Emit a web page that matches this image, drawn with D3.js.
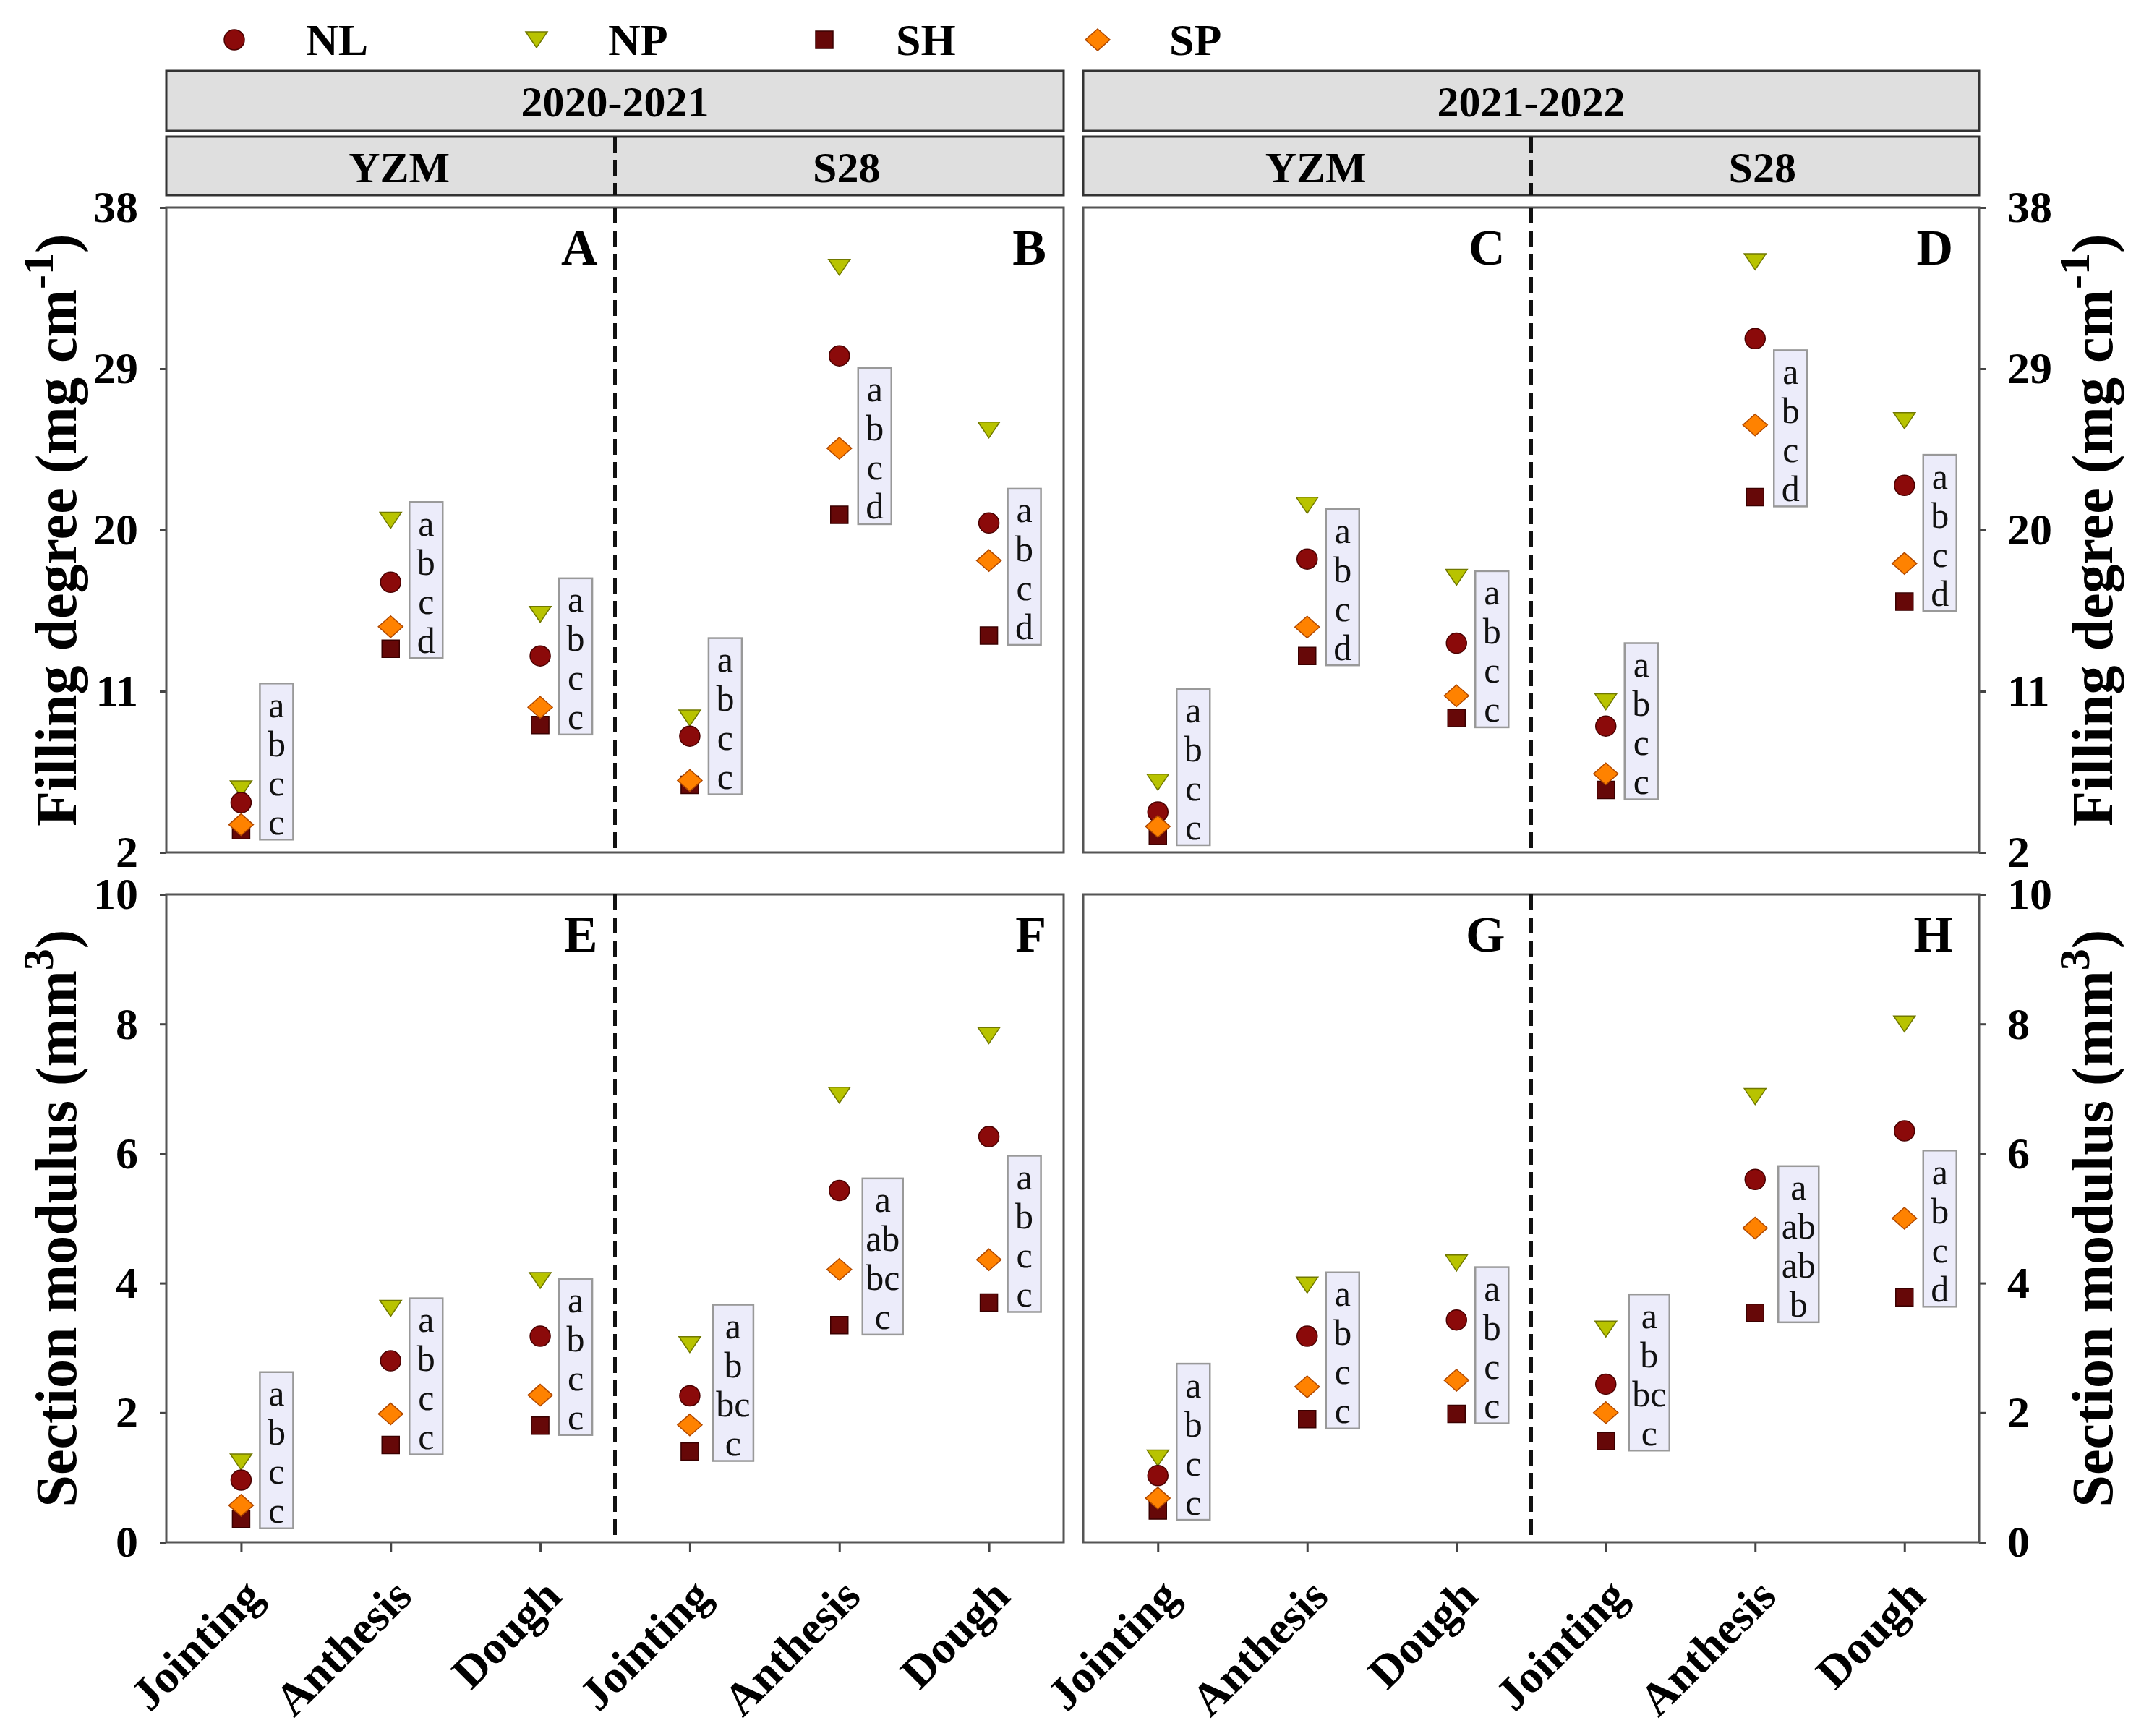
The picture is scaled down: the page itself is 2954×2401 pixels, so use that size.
<!DOCTYPE html>
<html>
<head>
<meta charset="utf-8">
<script src="https://cdn.jsdelivr.net/npm/d3@7"></script>
<style>
  body { margin: 0; background: #fff; }
  text { font-family: "Liberation Serif", "Times New Roman", serif; }
</style>
</head>
<body>
<div id="chart"></div>
<script>
// ---- data ----
const seasons = ["2020-2021", "2021-2022"];
const cultivars = ["YZM", "S28"];
const stages = ["Jointing", "Anthesis", "Dough"];
const treatments = ["NL", "NP", "SH", "SP"];
const panelTags = [["A", "B", "C", "D"], ["E", "F", "G", "H"]];

// groups: YZM Jointing/Anthesis/Dough, S28 Jointing/Anthesis/Dough
const fill2020 = {
  NL: [4.78, 17.08, 12.97, 8.49, 29.72, 20.39],
  NP: [5.55, 20.54, 15.29, 9.51, 34.66, 25.58],
  SH: [3.24, 13.37, 9.11, 5.77, 20.85, 14.11],
  SP: [3.55, 14.60, 10.10, 6.02, 24.56, 18.29]
};
const fill2021 = {
  NL: [4.26, 18.38, 13.68, 9.05, 30.68, 22.49],
  NP: [5.92, 21.38, 17.36, 10.41, 34.97, 26.10],
  SH: [2.93, 12.97, 9.51, 5.49, 21.84, 16.00],
  SP: [3.45, 14.58, 10.75, 6.39, 25.86, 18.13]
};
const modulus2020 = {
  NL: [0.96, 2.80, 3.18, 2.26, 5.43, 6.26],
  NP: [1.24, 3.61, 4.04, 3.05, 6.90, 7.82],
  SH: [0.36, 1.50, 1.80, 1.40, 3.35, 3.70],
  SP: [0.57, 1.98, 2.27, 1.81, 4.21, 4.36]
};
const modulus2021 = {
  NL: [1.03, 3.18, 3.43, 2.44, 5.60, 6.35],
  NP: [1.30, 3.97, 4.31, 3.29, 6.88, 8.00],
  SH: [0.49, 1.90, 1.98, 1.56, 3.54, 3.78],
  SP: [0.68, 2.40, 2.50, 2.00, 4.85, 5.00]
};

const fillLetters2020 = ["a b c c", "a b c d", "a b c c", "a b c c", "a b c d", "a b c d"];
const fillLetters2021 = ["a b c c", "a b c d", "a b c c", "a b c c", "a b c d", "a b c d"];
const modLetters2020 = ["a b c c", "a b c c", "a b c c", "a b bc c", "a ab bc c", "a b c c"];
const modLetters2021 = ["a b c c", "a b c c", "a b c c", "a b bc c", "a ab ab b", "a b c d"];

const fillTicks = [2, 11, 20, 29, 38];
const modTicks = [0, 2, 4, 6, 8, 10];

// ---- layout ----
const W = 2954, H = 2401;
const cols = [{ x0: 230, x1: 1471 }, { x0: 1498, x1: 2737 }];
const rows = [{ y0: 287, y1: 1179 }, { y0: 1237, y1: 2133 }];

const metrics = [
  { domain: [2, 38], ticks: fillTicks, data: [fill2020, fill2021], letters: [fillLetters2020, fillLetters2021] },
  { domain: [0, 10], ticks: modTicks, data: [modulus2020, modulus2021], letters: [modLetters2020, modLetters2021] }
];

const colors = {
  NL: { fill: "#8b0a0a", stroke: "#4a0000" },
  NP: { fill: "#b8c300", stroke: "#707800" },
  SH: { fill: "#660808", stroke: "#3a0000" },
  SP: { fill: "#ff8200", stroke: "#b04800" }
};

function marker(t) {
  if (t === "NL") return d3.symbol(d3.symbolCircle, Math.PI * 14 * 14)();
  if (t === "NP") return "M-15,-11L15,-11L0,11Z";
  if (t === "SH") return "M-12,-12H12V12H-12Z";
  return "M0,-15L17,0L0,15L-17,0Z";
}
const drawOrder = ["SH", "NP", "NL", "SP"];

const svg = d3.select("#chart").append("svg")
  .attr("width", W).attr("height", H)
  .attr("viewBox", `0 0 ${W} ${H}`);

// ---- legend ----
const legX = [324, 742, 1140, 1518];
treatments.forEach((t, i) => {
  svg.append("path")
    .attr("d", marker(t))
    .attr("transform", `translate(${legX[i]},55)`)
    .attr("fill", colors[t].fill)
    .attr("stroke", colors[t].stroke).attr("stroke-width", 1.5);
  svg.append("text")
    .attr("x", legX[i] + 99).attr("y", 76)
    .attr("font-size", 62).attr("font-weight", "bold")
    .text(t);
});

// ---- strip headers ----
cols.forEach((c, s) => {
  const mid = (c.x0 + c.x1) / 2;
  svg.append("rect")
    .attr("x", c.x0).attr("y", 98).attr("width", c.x1 - c.x0).attr("height", 83)
    .attr("fill", "#dfdfdf").attr("stroke", "#333").attr("stroke-width", 3);
  svg.append("text")
    .attr("x", mid).attr("y", 161).attr("text-anchor", "middle")
    .attr("font-size", 60).attr("font-weight", "bold")
    .text(seasons[s]);
  svg.append("rect")
    .attr("x", c.x0).attr("y", 189).attr("width", c.x1 - c.x0).attr("height", 81)
    .attr("fill", "#dfdfdf").attr("stroke", "#333").attr("stroke-width", 3);
  svg.append("line")
    .attr("x1", mid).attr("x2", mid).attr("y1", 189).attr("y2", 270)
    .attr("stroke", "#111").attr("stroke-width", 5).attr("stroke-dasharray", "22,10");
  cultivars.forEach((cv, k) => {
    svg.append("text")
      .attr("x", k === 0 ? (c.x0 + mid) / 2 + 12 : (mid + c.x1) / 2 + 10).attr("y", 252)
      .attr("text-anchor", "middle")
      .attr("font-size", 60).attr("font-weight", "bold")
      .text(cv);
  });
});

// ---- panels ----
rows.forEach((r, m) => {
  const met = metrics[m];
  const y = d3.scaleLinear().domain(met.domain).range([r.y1, r.y0]);

  cols.forEach((c, s) => {
    const x = d3.scalePoint().domain(d3.range(6)).range([c.x0, c.x1]).padding(0.5);
    const mid = (c.x0 + c.x1) / 2;
    const g = svg.append("g");

    // y axis (left for first column, right for second)
    const yAxis = (s === 0 ? d3.axisLeft(y) : d3.axisRight(y))
      .tickValues(met.ticks).tickSize(9).tickPadding(30);
    g.append("g")
      .attr("transform", `translate(${s === 0 ? c.x0 : c.x1},0)`)
      .call(yAxis)
      .call(a => a.select(".domain").remove())
      .call(a => a.selectAll("line").attr("stroke", "#444").attr("stroke-width", 3))
      .call(a => a.selectAll("text")
        .attr("font-family", "Liberation Serif").attr("font-size", 62)
        .attr("font-weight", "bold").attr("fill", "#000"));

    // x axis on bottom row
    if (m === 1) {
      g.append("g")
        .attr("transform", `translate(0,${r.y1})`)
        .call(d3.axisBottom(x).tickSize(13).tickFormat(i => stages[i % 3]))
        .call(a => a.select(".domain").remove())
        .call(a => a.selectAll("line").attr("stroke", "#444").attr("stroke-width", 3))
        .call(a => a.selectAll("text")
          .attr("font-family", "Liberation Serif").attr("font-size", 64)
          .attr("font-weight", "bold").attr("fill", "#000")
          .attr("text-anchor", "end").attr("x", 0).attr("y", 0).attr("dy", "0.35em")
          .attr("transform", "translate(16,62) rotate(-45)"));
    }

    // frame
    g.append("rect")
      .attr("x", c.x0).attr("y", r.y0).attr("width", c.x1 - c.x0).attr("height", r.y1 - r.y0)
      .attr("fill", "none").attr("stroke", "#555").attr("stroke-width", 3);

    // divider between cultivars
    g.append("line")
      .attr("x1", mid).attr("x2", mid).attr("y1", r.y0).attr("y2", r.y1)
      .attr("stroke", "#111").attr("stroke-width", 5).attr("stroke-dasharray", "22,10");

    // panel tags
    [mid, c.x1].forEach((right, k) => {
      g.append("text")
        .attr("x", right - (s === 0 ? 24 : 36)).attr("y", r.y0 + 79)
        .attr("text-anchor", "end")
        .attr("font-size", 70).attr("font-weight", "bold")
        .text(panelTags[m][s * 2 + k]);
    });

    const vals = met.data[s];
    const letters = met.letters[s];

    // letter boxes
    d3.range(6).forEach(i => {
      const parts = letters[i].split(" ");
      const wide = parts.some(p => p.length > 1);
      const bw = wide ? 56 : 46;
      const bx = x(i) + (wide ? 32 : 26);
      const bottom = y(vals.SH[i]) + 13;
      const top = bottom - 216;
      g.append("rect")
        .attr("x", bx).attr("y", top).attr("width", bw).attr("height", 216)
        .attr("fill", "#ececfa").attr("stroke", "#999").attr("stroke-width", 2.5);
      g.selectAll(null).data(parts).enter().append("text")
        .attr("x", bx + bw / 2)
        .attr("y", (d, k) => top + 30 + 54 * k)
        .attr("dy", "0.33em")
        .attr("text-anchor", "middle")
        .attr("font-size", 50).attr("fill", "#111")
        .text(d => d);
    });

    // markers
    drawOrder.forEach(t => {
      g.selectAll(null).data(vals[t]).enter().append("path")
        .attr("d", marker(t))
        .attr("transform", (d, i) => `translate(${x(i)},${y(d)})`)
        .attr("fill", colors[t].fill)
        .attr("stroke", colors[t].stroke).attr("stroke-width", 1.5);
    });
  });

  // axis titles, left and right
  const cy = (r.y0 + r.y1) / 2;
  [77, 2893].forEach(tx => {
    const t = svg.append("text")
      .attr("transform", `translate(${tx},${cy}) rotate(-90)`)
      .attr("text-anchor", "middle").attr("dy", "0.35em")
      .attr("font-size", 80).attr("font-weight", "bold");
    if (m === 0) {
      t.append("tspan").text("Filling degree (mg cm");
      t.append("tspan").attr("font-size", 60).attr("dy", -32).text("-1");
      t.append("tspan").attr("dy", 32).text(")");
    } else {
      t.append("tspan").text("Section modulus (mm");
      t.append("tspan").attr("font-size", 60).attr("dy", -32).text("3");
      t.append("tspan").attr("dy", 32).text(")");
    }
  });
});
</script>
</body>
</html>
